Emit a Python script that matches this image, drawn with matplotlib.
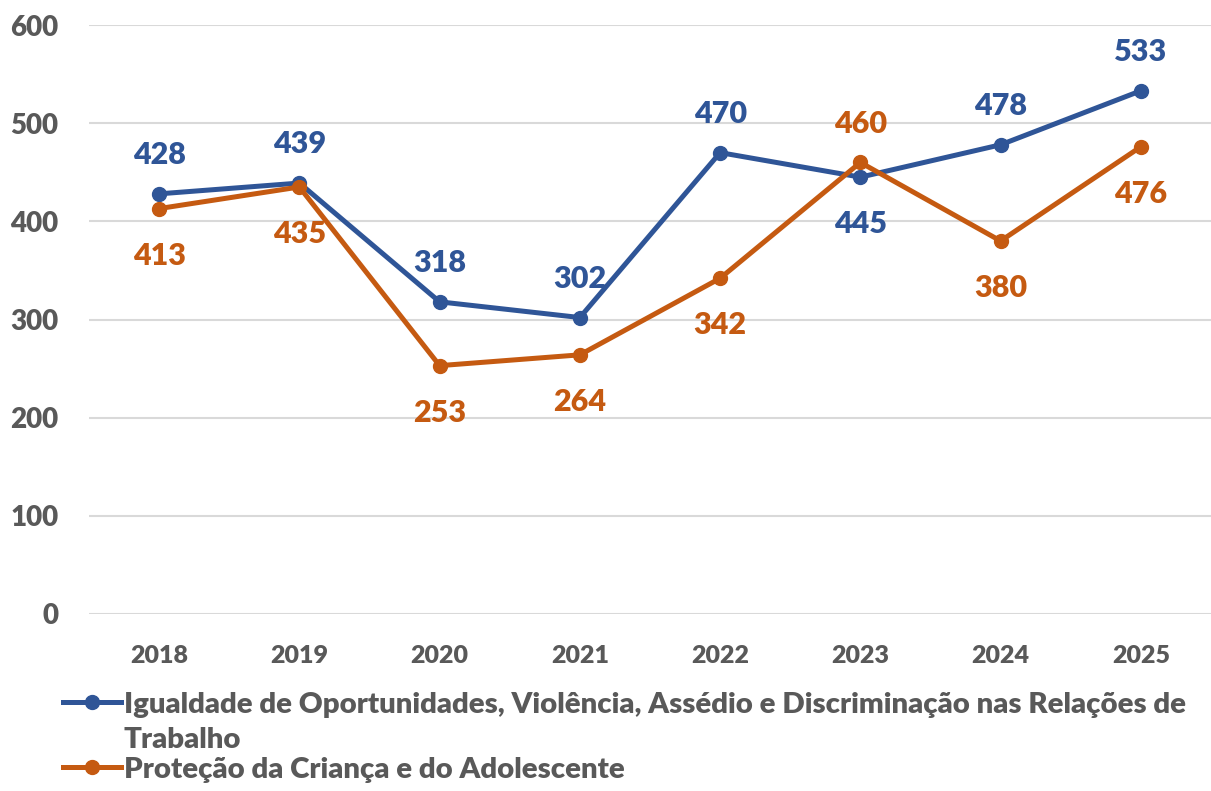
import matplotlib
matplotlib.use("Agg")
import matplotlib.pyplot as plt

years = ["2018", "2019", "2020", "2021", "2022", "2023", "2024", "2025"]
igualdade = [428, 439, 318, 302, 470, 445, 478, 533]
protecao = [413, 435, 253, 264, 342, 460, 380, 476]
label_igualdade = ("Igualdade de Oportunidades, Violência, Assédio e Discriminação nas Relações de\n"
                   "Trabalho")
label_protecao = "Proteção da Criança e do Adolescente"
y_ticks = [0, 100, 200, 300, 400, 500, 600]

# label placement style (above / below)
pos_igualdade = ["above", "above", "above", "above", "above", "below", "above", "above"]
pos_protecao = ["below", "below", "below", "below", "below", "above", "below", "below"]

BLUE = "#2F5597"
ORANGE = "#C55A11"
GRAY = "#595959"
GRID = "#D9D9D9"
W = 800

plt.rcParams["font.family"] = ["Lato", "DejaVu Sans"]
plt.rcParams["font.weight"] = W

fig = plt.figure(figsize=(12.11, 7.91), dpi=100)
ax = fig.add_axes([89 / 1211, 1 - 614 / 791, 1 - 89 / 1211, (614 - 25) / 791])

x = list(range(len(years)))
for vals, col, pos, lab in [(igualdade, BLUE, pos_igualdade, label_igualdade),
                            (protecao, ORANGE, pos_protecao, label_protecao)]:
    ax.plot(x, vals, color=col, lw=3.6, marker="o", ms=10, label=lab,
            solid_joinstyle="round", zorder=3)
    for xi, v, p in zip(x, vals, pos):
        off = 28 if p == "above" else -34
        ax.annotate(str(v), (xi, v), xytext=(0, off), textcoords="offset points",
                    ha="center", va="center", color=col, fontsize=22,
                    fontweight=W, zorder=4)

ax.set_xlim(-0.5, len(years) - 0.5)
ax.set_ylim(0, 600)
ax.set_yticks(y_ticks)
ax.set_xticks(x)
ax.set_xticklabels(years)
ax.grid(axis="y", color=GRID, lw=1.5)
ax.set_axisbelow(True)
for s in ax.spines.values():
    s.set_visible(False)
ax.tick_params(axis="both", length=0, colors=GRAY)
ax.tick_params(axis="y", labelsize=20, pad=22)
ax.tick_params(axis="x", labelsize=18, pad=22)
for t in ax.get_xticklabels() + ax.get_yticklabels():
    t.set_fontweight(W)

leg = ax.legend(loc="upper left", bbox_to_anchor=(63 / 1211, 1 - 692 / 791),
                bbox_transform=fig.transFigure, frameon=False,
                handlelength=1.97, handletextpad=0.1, borderaxespad=0,
                borderpad=0, labelspacing=0.12, labelcolor=GRAY,
                prop={"weight": W, "size": 21.2})
for t in leg.get_texts():
    t.set_linespacing(1.45)
try:
    for col in leg._legend_handle_box.get_children():
        for hp in col.get_children():
            hp.align = "top"
except Exception:
    pass

fig.savefig("out.png", dpi=100)
